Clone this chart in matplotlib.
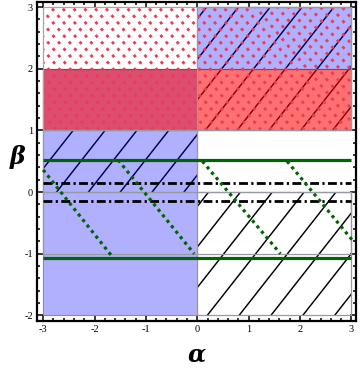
import numpy as np
import matplotlib
matplotlib.use("Agg")
import matplotlib.pyplot as plt
from matplotlib.patches import Rectangle
from matplotlib.ticker import MultipleLocator

# regions as (alpha0, beta0, width, height)
blue_regions = [(-3, -2, 3, 4), (0, 2, 3, 1)]
red_regions = [(-3, 1, 6, 1)]
dotted_regions = [(-3, 1, 6, 2)]
hatched_regions = [(-3, 0, 3, 1), (0, 1, 3, 2), (0, -2, 3, 2)]
outline_regions = [(-3, -1, 6, 1)]

# horizontal curves
green_levels = [0.52, -1.07]
dashdot_levels = [0.14, -0.14]
alpha_range = [-3, 3]

# green dotted segments: (alpha start, beta start, alpha end, beta end)
seg_a0 = [-3.0, -1.54, 0.10, 1.75]
seg_b0 = [0.36, 0.52, 0.50, 0.50]
seg_a1 = [-1.68, -0.06, 1.62, 3.04]
seg_b1 = [-1.02, -1.00, -1.00, -0.80]

x_ticks = [-3, -2, -1, 0, 1, 2, 3]
y_ticks = [-2, -1, 0, 1, 2, 3]

plt.rcParams['axes.unicode_minus'] = False


def hatch(ax, rect, slope, spacing, offset, z, **kw):
    """Draw clipped parallel lines inside a rectangle (alpha = c + beta/slope)."""
    x0, y0, w, h = rect
    clip = Rectangle((x0, y0), w, h, fill=False, edgecolor='none')
    ax.add_patch(clip)
    ys = np.array([y0 - 0.1, y0 + h + 0.1])
    lo = x0 - abs(h / slope) - 1
    hi = x0 + w + abs(h / slope) + 1
    k0 = np.floor((lo - offset) / spacing)
    k1 = np.ceil((hi - offset) / spacing)
    for k in np.arange(k0, k1 + 1):
        c = offset + k * spacing
        ln, = ax.plot(c + ys / slope, ys, zorder=z, **kw)
        ln.set_clip_path(clip)


fig = plt.figure(figsize=(3.6, 3.7), dpi=100)
ax = fig.add_axes([0.1028, 0.1324, 0.886, 0.8635])

# black diagonal hatching, phase differs per region
hatch_phase = [-2.12, -0.79, 2.08]
for r, ph in zip(hatched_regions, hatch_phase):
    hatch(ax, r, 1.06, 0.62, ph, 1, color='black', lw=1.05)

for r in blue_regions:
    ax.add_patch(Rectangle(r[:2], r[2], r[3], facecolor=(0, 0, 1, 0.31),
                           edgecolor=(0.55, 0.55, 0.6), lw=0.8, zorder=2))
for r in red_regions:
    ax.add_patch(Rectangle(r[:2], r[2], r[3], facecolor=(1, 0, 0, 0.56),
                           edgecolor=(0.45, 0.3, 0.35), lw=0.8, zorder=3))

# red dotted hatching
for r in dotted_regions:
    hatch(ax, r, -1.0, 0.21, -3.0, 4, color='#ec3a58', lw=2.0,
          linestyle=(0, (1.1, 2.0)), dash_capstyle='butt')
    ax.add_patch(Rectangle(r[:2], r[2], r[3], fill=False,
                           edgecolor=(0.65, 0.65, 0.65), lw=0.9, zorder=4))

for r in hatched_regions + outline_regions:
    ax.add_patch(Rectangle(r[:2], r[2], r[3], fill=False,
                           edgecolor=(0.6, 0.6, 0.65), lw=0.9, zorder=4))

for b in green_levels:
    ax.plot(alpha_range, [b, b], color='#006400', lw=2.3, zorder=6,
            solid_capstyle='butt')
for b in dashdot_levels:
    ax.plot(alpha_range, [b, b], color='black', lw=2.0, zorder=6,
            linestyle=(0, (3.2, 1.2, 0.8, 1.2)), dash_capstyle='butt')
for a0, b0, a1, b1 in zip(seg_a0, seg_b0, seg_a1, seg_b1):
    ax.plot([a0, a1], [b0, b1], color='#006400', lw=2.3, zorder=6,
            linestyle=(0, (1.0, 1.2)), dash_capstyle='butt')

ax.set_xlim(-3.12, 3.09)
ax.set_ylim(-2.09, 3.09)
ax.set_xticks(x_ticks)
ax.set_yticks(y_ticks)
ax.xaxis.set_minor_locator(MultipleLocator(0.2))
ax.yaxis.set_minor_locator(MultipleLocator(0.2))
ax.tick_params(which='both', direction='in', top=True, right=True,
               labelsize=7.5, width=1.1, pad=3)
ax.tick_params(which='major', length=4)
ax.tick_params(which='minor', length=2)
for lab in ax.get_xticklabels() + ax.get_yticklabels():
    lab.set_fontfamily('Liberation Serif')
for s in ax.spines.values():
    s.set_linewidth(1.6)

ax.set_xlabel('α', fontsize=17, fontfamily='DejaVu Serif', style='italic',
              fontweight='bold')
ax.set_ylabel('β', fontsize=17, fontfamily='DejaVu Serif', style='italic',
              fontweight='bold', rotation=0)
ax.xaxis.set_label_coords(0.5, -0.106)
ax.yaxis.set_label_coords(-0.06, 0.513)
ax.xaxis.label.set_va('center')
ax.yaxis.label.set_va('center')

fig.savefig('out.png', dpi=100)
